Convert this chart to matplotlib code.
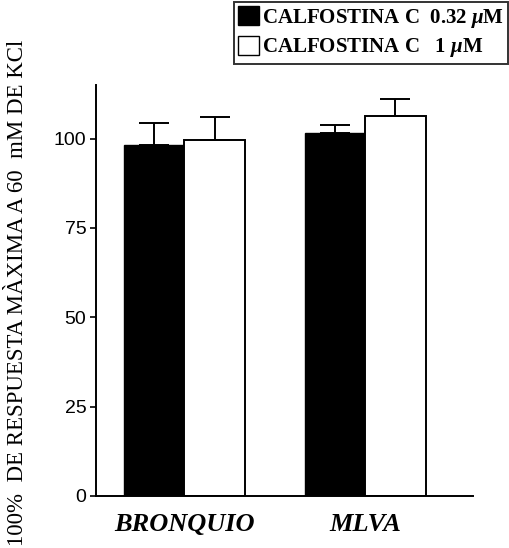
import numpy as np
import matplotlib
matplotlib.use("Agg")
import matplotlib.pyplot as plt
from matplotlib.patches import Patch

groups = ["BRONQUIO", "MLVA"]
series = ["CALFOSTINA C  0.32 $\\mu$M", "CALFOSTINA C   1 $\\mu$M"]
means_032 = [98.3, 101.7]
errs_032 = [6.2, 2.2]
means_1 = [99.7, 106.4]
errs_1 = [6.3, 4.8]
yticks = [0, 25, 50, 75, 100]

plt.rcParams["font.family"] = ["Liberation Serif", "DejaVu Serif"]
plt.rcParams["mathtext.fontset"] = "custom"
plt.rcParams["mathtext.rm"] = "Liberation Serif:bold"
plt.rcParams["mathtext.it"] = "Liberation Serif:bold:italic"

fig = plt.figure(figsize=(5.1, 5.48), dpi=100)
ax = fig.add_axes([96 / 510, 1 - 496 / 548, (473 - 96) / 510, (496 - 85) / 548])

x = np.array([0.0, 1.0])
w = 0.335
err_kw = dict(capsize=11, elinewidth=1.4, capthick=1.4, ecolor="black")
ax.bar(x - w / 2, means_032, w, yerr=[np.zeros(2), errs_032], color="black",
       edgecolor="black", linewidth=1, error_kw=err_kw)
ax.bar(x + w / 2, means_1, w, yerr=[np.zeros(2), errs_1], color="white",
       edgecolor="black", linewidth=1.4, error_kw=err_kw)

ax.set_ylim(0, 115)
ax.set_xlim(-0.49, 1.598)
ax.set_yticks(yticks)
ax.set_yticklabels([str(t) for t in yticks], fontsize=14,
                   family=["Liberation Sans Narrow", "Liberation Sans"])
ax.set_xticks(x)
ax.set_xticklabels(groups, fontsize=19, fontweight="bold", style="italic")
ax.tick_params(axis="x", length=0, pad=12)
ax.tick_params(axis="y", length=4, width=1.2, pad=3)
for side in ["top", "right"]:
    ax.spines[side].set_visible(False)
for side in ["left", "bottom"]:
    ax.spines[side].set_linewidth(1.4)

fig.text(18 / 510, 1 - 293 / 548, "100%  DE RESPUESTA MÀXIMA A 60  mM DE KCl",
         rotation=90, ha="center", va="center", fontsize=16.5)

handles = [Patch(facecolor="black", edgecolor="black"),
           Patch(facecolor="white", edgecolor="black")]
leg = fig.legend(handles, series, loc="upper right", bbox_to_anchor=(1.0, 1.0),
                 frameon=True, fancybox=False, edgecolor="black",
                 prop=dict(family="Liberation Serif", weight="bold", size=15),
                 handlelength=1.0, handleheight=1.0, handletextpad=0.15,
                 borderpad=0.2, labelspacing=0.3, borderaxespad=0.1)
leg.get_frame().set_linewidth(1.4)

fig.savefig("out.png", dpi=100)
